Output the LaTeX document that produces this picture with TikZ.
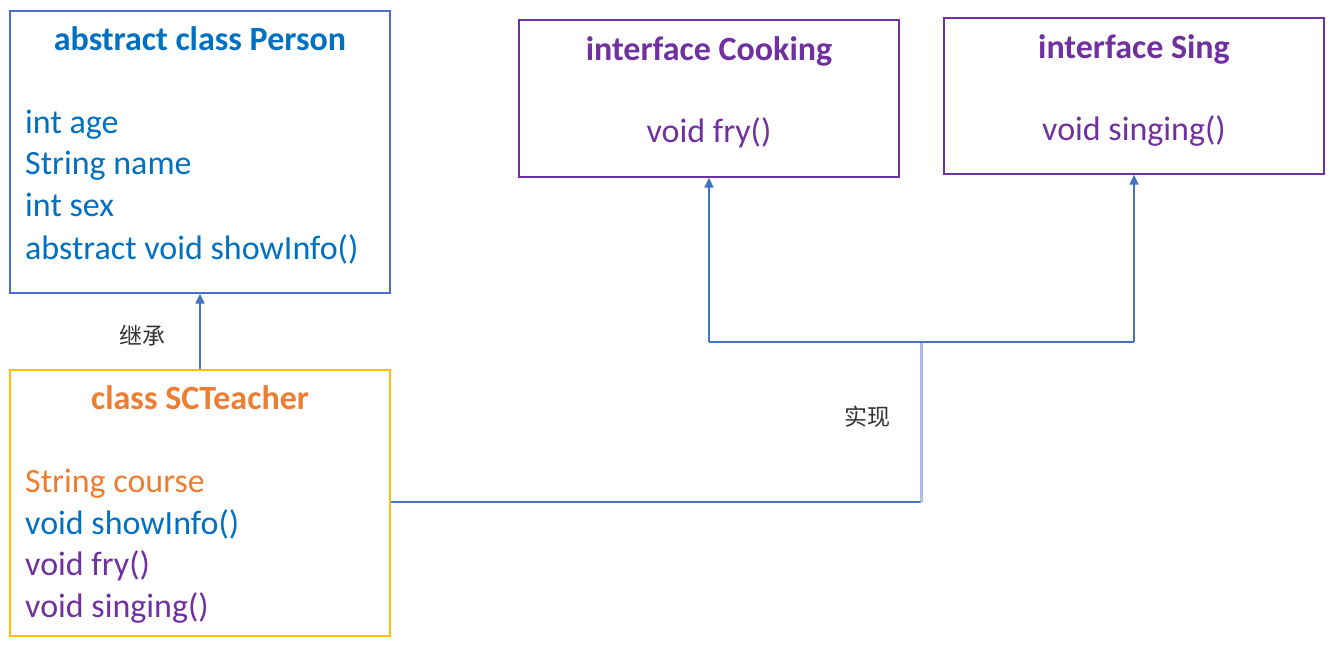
\documentclass[tikz,border=0pt]{standalone}
\usepackage{fontspec}
\setmainfont{Carlito}
\newfontfamily\cjk{Noto Sans CJK SC}
\usetikzlibrary{arrows.meta}
\definecolor{cblue}{HTML}{0070C0}
\definecolor{cpurple}{HTML}{7030A0}
\definecolor{corange}{HTML}{ED7D31}
\definecolor{lblue}{HTML}{4472C4}
\definecolor{lyellow}{HTML}{FFC000}
\definecolor{llight}{HTML}{A9BDE6}
\tikzset{
  box/.style={draw, line width=1.4pt, inner sep=0pt, rectangle},
  ttl/.style={anchor=base, inner sep=0pt, font=\fontsize{34}{38}\selectfont\bfseries},
  mem/.style={anchor=base west, inner sep=0pt, font=\fontsize{34}{38}\selectfont},
  cmem/.style={anchor=base, inner sep=0pt, font=\fontsize{34}{38}\selectfont},
  conn/.style={draw=lblue, line width=1.8pt},
  arr/.style={conn, -{Triangle[width=9pt,length=10pt]}},
  lbl/.style={font=\cjk\fontsize{23}{25}\selectfont, text=black!80},
}
\begin{document}
\begin{tikzpicture}[x=1pt,y=-1pt]
\useasboundingbox (0,0) rectangle (1333,651);
% boxes
\node[box, draw=lblue, minimum width=380pt, minimum height=282pt] (person) at (200,152) {};
\node[box, draw=lyellow, minimum width=380pt, minimum height=266pt] (teacher) at (200,503) {};
\node[box, draw=cpurple, minimum width=380pt, minimum height=157pt] (cook) at (709,98.5) {};
\node[box, draw=cpurple, minimum width=380pt, minimum height=156pt] (sing) at (1134,96) {};
% Person texts
\node[ttl, text=cblue] (pt) at (200,50) {abstract class Person};
\node[mem, text=cblue] (p1) at (25,133) {int age};
\node[mem, text=cblue] (p2) at (25,174) {String name};
\node[mem, text=cblue] (p3) at (25,216) {int sex};
\node[mem, text=cblue] (p4) at (25,259) {abstract void showInfo()};
% Teacher texts
\node[ttl, text=corange] (tt) at (200,409) {class SCTeacher};
\node[mem, text=corange] (t1) at (25,492) {String course};
\node[mem, text=cblue] (t2) at (25,534) {void showInfo()};
\node[mem, text=cpurple] (t3) at (25,575) {void fry()};
\node[mem, text=cpurple] (t4) at (25,617) {void singing()};
% Interfaces
\node[ttl, text=cpurple] (ct) at (709,60) {interface Cooking};
\node[cmem, text=cpurple] (c1) at (709,142) {void fry()};
\node[ttl, text=cpurple] (st) at (1134,58) {interface Sing};
\node[cmem, text=cpurple] (s1) at (1134,140) {void singing()};
% connectors
\draw[arr] (teacher.north) -- (person.south);
\node[lbl] (l1) at (142,336) {继承};
\coordinate (j) at (921,342);
\coordinate (b) at (921,502);
\draw[conn] (teacher.east |- b) -- (b);
\draw[draw=llight, line width=3pt] (b) -- (j);
\draw[conn] (j) -- (j -| cook.south);
\draw[conn] (j) -- (j -| sing.south);
\draw[arr] (j -| cook.south) -- (cook.south);
\draw[arr] (j -| sing.south) -- (sing.south);
\node[lbl] (l2) at (867,417) {实现};
\end{tikzpicture}
\end{document}
